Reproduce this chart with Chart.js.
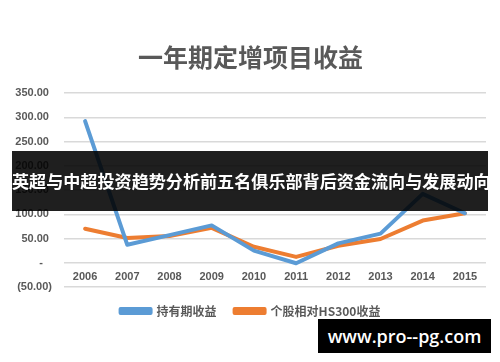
<!DOCTYPE html>
<html>
<head>
<meta charset="utf-8">
<script src="https://cdn.jsdelivr.net/npm/chart.js@4/dist/chart.umd.min.js"></script>
<style>
  html, body { margin:0; padding:0; background:#fff; }
  #wrap { position:relative; width:500px; height:362px; overflow:hidden; }
  #c { position:absolute; left:0; top:0; }
  #banner { position:absolute; left:12px; top:151px; width:476px; height:60px; background:rgba(0,0,0,0.88);
    color:#fff; font-family:"Noto Sans CJK SC", sans-serif; font-weight:bold; font-size:17.1px;
    line-height:60px; text-align:center; white-space:nowrap; }
  #wm { position:absolute; left:318px; top:319px; width:173px; height:34px; background:#000;
    color:#fff; font-family:"Open Sans", "DejaVu Sans", sans-serif; font-weight:600; font-size:18px;
    line-height:34px; text-align:center; white-space:nowrap; }
</style>
</head>
<body>
<div id="wrap">
  <canvas id="c" width="500" height="362"></canvas>
  <div id="banner">英超与中超投资趋势分析前五名俱乐部背后资金流向与发展动向</div>
  <div id="wm">www.pro--pg.com</div>
</div>
<script>
const chartTitle = '一年期定增项目收益';
const categories = ['2006','2007','2008','2009','2010','2011','2012','2013','2014','2015'];
const seriesNames = ['持有期收益', '个股相对HS300收益'];
const holdingReturn = [292, 37, 57, 77, 25, -1, 40, 60, 142, 102];
const relativeHS300 = [70, 51, 55, 72, 33, 12, 35, 49, 87, 102];
const yTicks = [-50, 0, 50, 100, 150, 200, 250, 300, 350];

function fmt(v) {
  if (v === 0) return '-   ';
  if (v < 0) return '(' + Math.abs(v).toFixed(2) + ')';
  return v.toFixed(2) + ' ';
}

const centerBoxes = {
  id: 'centerBoxes',
  afterLayout(chart) {
    if (chart.titleBlock) { chart.titleBlock.left = 15; chart.titleBlock.right = 486; }
    if (chart.legend) { chart.legend.left = 15; chart.legend.right = 486; chart.legend.adjustHitBoxes && chart.legend.adjustHitBoxes(); }
  }
};

const grey = '#595959';
new Chart(document.getElementById('c'), {
  type: 'line',
  data: {
    labels: categories,
    datasets: [
      { label: seriesNames[0], data: holdingReturn, borderColor: '#5b9bd5', backgroundColor: '#5b9bd5',
        borderWidth: 4, pointRadius: 0, tension: 0, borderCapStyle: 'round', borderJoinStyle: 'round' },
      { label: seriesNames[1], data: relativeHS300, borderColor: '#ed7d31', backgroundColor: '#ed7d31',
        borderWidth: 4, pointRadius: 0, tension: 0, borderCapStyle: 'round', borderJoinStyle: 'round' }
    ]
  },
  plugins: [centerBoxes],
  options: {
    responsive: false,
    animation: false,
    layout: { padding: { left: 0, right: 14, top: 0, bottom: 35 } },
    plugins: {
      title: { display: true, text: chartTitle, color: grey,
        font: { family: '"Noto Sans CJK SC", sans-serif', size: 25, weight: 'bold' },
        padding: { top: 42, bottom: 21 } },
      legend: { position: 'bottom',
        labels: { color: grey, boxWidth: 30, boxHeight: 4, padding: 18,
          font: { family: '"Noto Sans CJK SC", sans-serif', size: 12, weight: 'bold' } } },
      tooltip: { enabled: false }
    },
    scales: {
      x: { position: 'bottom', offset: true,
        afterFit: s => { s.height = 0; },
        grid: { display: false, drawTicks: false },
        border: { display: false },
        ticks: { color: grey, mirror: true, padding: 3, maxRotation: 0, autoSkip: false,
          font: { family: '"Liberation Sans", Arial, sans-serif', size: 11, weight: 'bold' } } },
      y: { min: -50, max: 350,
        afterBuildTicks: s => { s.ticks = yTicks.map(v => ({ value: v })); },
        afterFit: s => { s.width = 64; },
        grid: { color: '#d9d9d9', lineWidth: 1.5, drawTicks: false },
        border: { display: false },
        ticks: { color: grey, padding: 12,
          callback: v => fmt(v),
          font: { family: '"Liberation Sans", Arial, sans-serif', size: 11, weight: 'bold' } } }
    }
  }
});
</script>
</body>
</html>
